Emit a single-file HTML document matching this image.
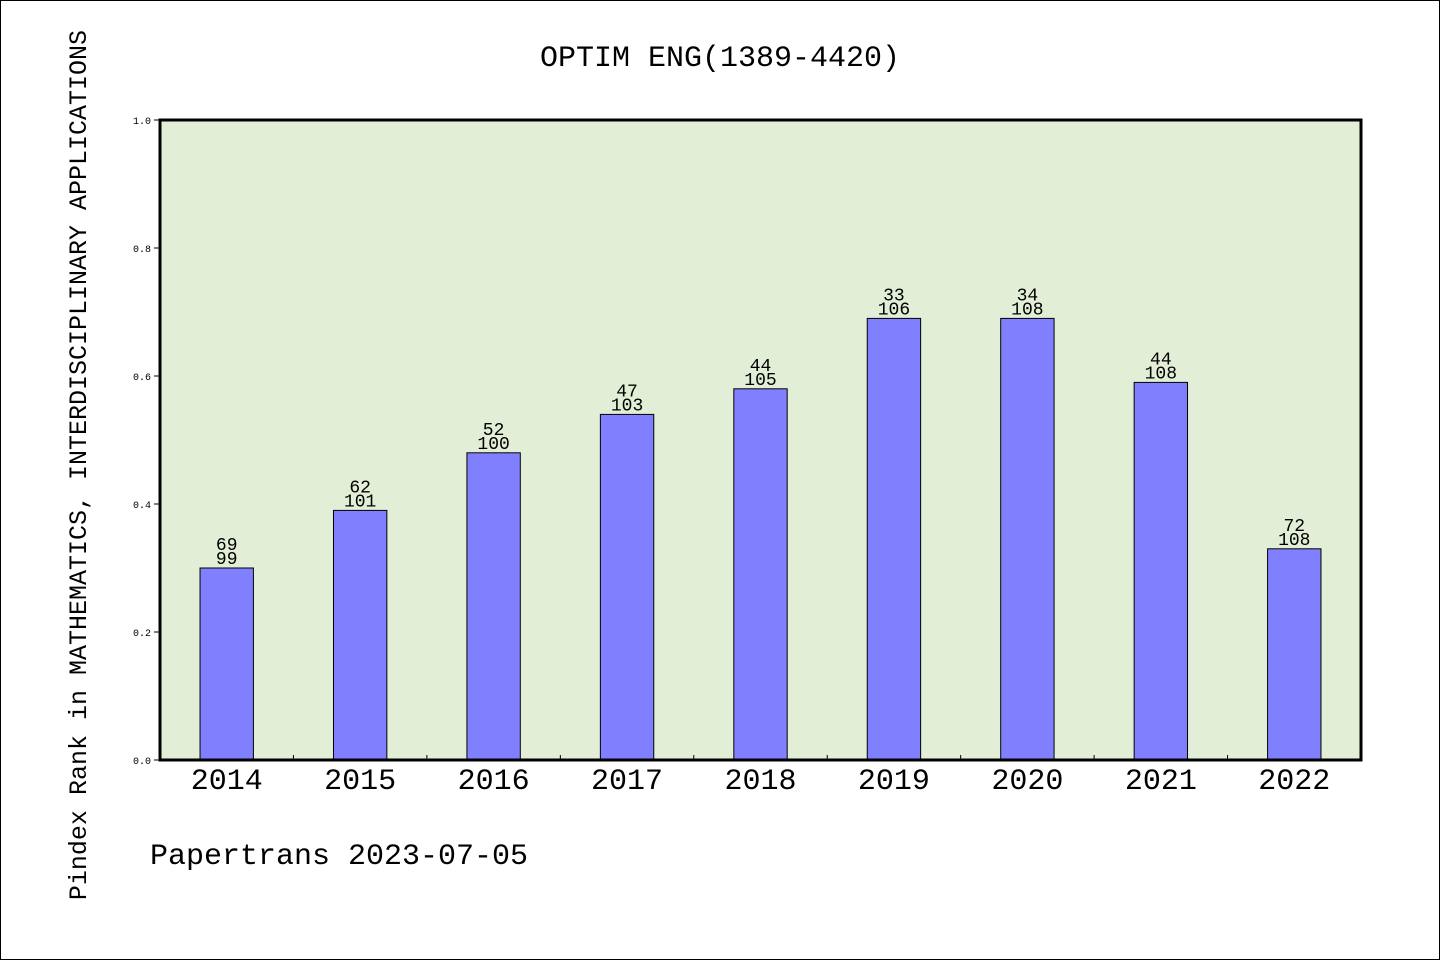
<!DOCTYPE html>
<html><head><meta charset="utf-8">
<style>
html,body{margin:0;padding:0;background:#fff;}
svg{display:block;font-family:"WenQuanYi Zen Hei","Liberation Mono",monospace;}
</style></head>
<body>
<svg id="chart" width="1440" height="960" viewBox="0 0 1440 960" xmlns="http://www.w3.org/2000/svg">
<rect x="0.5" y="0.5" width="1439" height="959" fill="#fff" stroke="#000" stroke-width="1"/>
<text x="720" y="66" font-size="30" text-anchor="middle">OPTIM ENG(1389-4420)</text>
<rect x="160" y="120" width="1201" height="640" fill="#e2efd6"/>
<g id="bars"></g>
<g id="axes"></g>
<rect x="160" y="120" width="1201" height="640" fill="none" stroke="#000" stroke-width="3"/>
<text transform="translate(86,465) rotate(-90)" font-size="25" text-anchor="middle">Pindex Rank in MATHEMATICS, INTERDISCIPLINARY APPLICATIONS</text>
<text x="150" y="864" font-size="30">Papertrans 2023-07-05</text>
</svg>
<script>
const categories = ["2014","2015","2016","2017","2018","2019","2020","2021","2022"];
const values = [0.30,0.39,0.48,0.54,0.58,0.69,0.69,0.59,0.33];
const ranks = [69,62,52,47,44,33,34,44,72];
const totals = [99,101,100,103,105,106,108,108,108];
const yTicks = ["0.0","0.2","0.4","0.6","0.8","1.0"];

const NS="http://www.w3.org/2000/svg";
const X0=160,X1=1361,Y0=760,Y1=120;
const band=(X1-X0)/categories.length;
const xc=i=>X0+band*(i+0.5);
const ys=v=>Y0-(v-0)/(1-0)*(Y0-Y1);
function mk(tag,attrs){const e=document.createElementNS(NS,tag);for(const k in attrs)e.setAttribute(k,attrs[k]);return e;}
const bars=document.getElementById('bars');
const axes=document.getElementById('axes');
const bw=band*0.4;
categories.forEach((c,i)=>{
  const r=mk('rect',{x:xc(i)-bw/2,y:ys(values[i]),width:bw,height:Y0-ys(values[i]),fill:'#8080ff',stroke:'#000','stroke-width':1});
  
  
  bars.appendChild(r);
  const t1=mk('text',{x:xc(i),y:ys(values[i])-18,'font-size':18,'text-anchor':'middle'});
  t1.textContent=ranks[i];
  
  
  bars.appendChild(t1);
  const t2=mk('text',{x:xc(i),y:ys(values[i])-4,'font-size':18,'text-anchor':'middle'});
  t2.textContent=totals[i];
  
  
  bars.appendChild(t2);
  const xl=mk('text',{x:xc(i),y:789,'font-size':30,'text-anchor':'middle'});
  xl.textContent=c;
  
  
  axes.appendChild(xl);
  if(i>0){
    const tk=mk('line',{x1:X0+band*i,x2:X0+band*i,y1:Y0,y2:Y0-5,stroke:'#000','stroke-width':1});
    
    
    axes.appendChild(tk);
  }
});
yTicks.forEach(t=>{
  const y=ys(parseFloat(t));
  const tk=mk('line',{x1:X0-6,x2:X0,y1:y,y2:y,stroke:'#000','stroke-width':1});
  
  
  axes.appendChild(tk);
  const l=mk('text',{x:X0-9,y:y+4,'font-size':10,'text-anchor':'end'});
  l.textContent=t;
  
  
  axes.appendChild(l);
});
</script>
</body></html>
